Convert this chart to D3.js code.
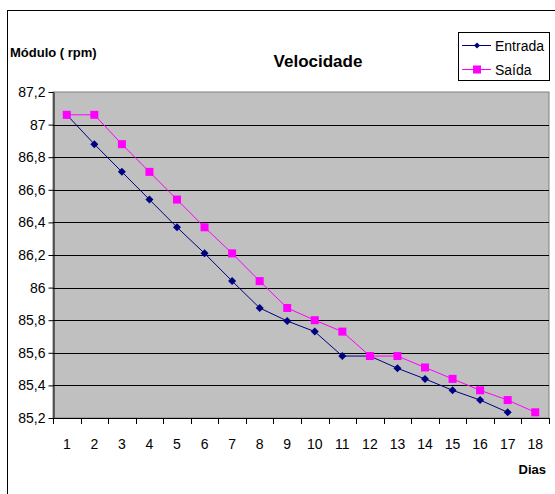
<!DOCTYPE html>
<html>
<head>
<meta charset="utf-8">
<script src="https://cdn.jsdelivr.net/npm/d3@7"></script>
<style>
  body { margin: 0; background: #fff; }
  svg { display: block; font-family: Arial, "Liberation Sans", sans-serif; }
</style>
</head>
<body>
<svg id="chart" width="555" height="494"></svg>
<script>
const days = [1, 2, 3, 4, 5, 6, 7, 8, 9, 10, 11, 12, 13, 14, 15, 16, 17, 18];
const entrada = [87.06, 86.88, 86.71, 86.54, 86.37, 86.21, 86.04, 85.875, 85.795, 85.73,
  85.58, 85.58, 85.505, 85.44, 85.37, 85.31, 85.235];
const saida = [87.06, 87.06, 86.88, 86.71, 86.54, 86.37, 86.21, 86.04, 85.875, 85.80,
  85.73, 85.58, 85.58, 85.51, 85.44, 85.37, 85.31, 85.235];
const yTicks = [85.2, 85.4, 85.6, 85.8, 86, 86.2, 86.4, 86.6, 86.8, 87, 87.2];

const svg = d3.select('#chart');
const plot = { left: 53, top: 92, right: 549, bottom: 418 };

// outer chart frame, cut off at right and bottom
svg.append('rect')
  .attr('x', 7.5).attr('y', 10.5)
  .attr('width', 560).attr('height', 500)
  .attr('fill', '#fff').attr('stroke', '#000');

const x = d3.scaleBand().domain(days).range([plot.left, plot.right]);
const y = d3.scaleLinear().domain([85.2, 87.2]).range([plot.bottom, plot.top]);

svg.append('rect')
  .attr('x', plot.left).attr('y', plot.top)
  .attr('width', plot.right - plot.left).attr('height', plot.bottom - plot.top)
  .attr('fill', '#c0c0c0').attr('stroke', '#808080');

// horizontal gridlines
svg.append('g')
  .selectAll('line')
  .data(yTicks.slice(1, -1))
  .join('line')
  .attr('x1', plot.left).attr('x2', plot.right)
  .attr('y1', d => Math.round(y(d)) + 0.5).attr('y2', d => Math.round(y(d)) + 0.5)
  .attr('stroke', '#000');

const fmt = d => d3.format('.1f')(d).replace('.0', '').replace('.', ',');

const yAxis = svg.append('g')
  .attr('transform', `translate(${plot.left + 0.5},0)`)
  .call(d3.axisLeft(y).tickValues(yTicks).tickFormat(fmt).tickSize(5).tickPadding(3).tickSizeOuter(0));
yAxis.selectAll('text').attr('font-size', 14).attr('fill', '#000').attr('font-family', 'Arial, "Liberation Sans", sans-serif');
yAxis.selectAll('line, path').attr('stroke', '#000');

// x axis: ticks on category boundaries
const bounds = days.map(d => x(d)).concat([plot.right]);
const xg = svg.append('g');
xg.append('line')
  .attr('x1', plot.left).attr('x2', plot.right)
  .attr('y1', plot.bottom + 0.5).attr('y2', plot.bottom + 0.5)
  .attr('stroke', '#000');
xg.selectAll('line.tick')
  .data(bounds)
  .join('line')
  .attr('class', 'tick')
  .attr('x1', d => Math.round(d) + 0.5).attr('x2', d => Math.round(d) + 0.5)
  .attr('y1', plot.bottom).attr('y2', plot.bottom + 6)
  .attr('stroke', '#000');
xg.selectAll('text')
  .data(days)
  .join('text')
  .attr('x', d => x(d) + x.bandwidth() / 2)
  .attr('y', 449)
  .attr('text-anchor', 'middle')
  .attr('font-size', 14)
  .text(d => d);

const line = d3.line()
  .x((d, i) => x(days[i]) + x.bandwidth() / 2)
  .y(d => y(d));

// Entrada first, Saída on top
svg.append('path')
  .datum(entrada)
  .attr('d', line)
  .attr('fill', 'none').attr('stroke', '#000080').attr('stroke-width', 1);

const diamond = 'M0,-4L4,0L0,4L-4,0Z';
svg.append('g')
  .selectAll('path')
  .data(entrada)
  .join('path')
  .attr('transform', (d, i) => `translate(${x(days[i]) + x.bandwidth() / 2},${y(d)})`)
  .attr('d', diamond)
  .attr('fill', '#000080');

svg.append('path')
  .datum(saida)
  .attr('d', line)
  .attr('fill', 'none').attr('stroke', '#ff00ff').attr('stroke-width', 1);

svg.append('g')
  .selectAll('rect')
  .data(saida)
  .join('rect')
  .attr('x', (d, i) => x(days[i]) + x.bandwidth() / 2 - 4)
  .attr('y', d => y(d) - 4)
  .attr('width', 8).attr('height', 8)
  .attr('fill', '#ff00ff');

// titles
svg.append('text')
  .attr('x', 318).attr('y', 67)
  .attr('text-anchor', 'middle')
  .attr('font-size', 17).attr('font-weight', 'bold')
  .text('Velocidade');
svg.append('text')
  .attr('x', 10).attr('y', 57)
  .attr('font-size', 13).attr('font-weight', 'bold')
  .text('Módulo ( rpm)');
svg.append('text')
  .attr('x', 546).attr('y', 474)
  .attr('text-anchor', 'end')
  .attr('font-size', 13).attr('font-weight', 'bold')
  .text('Dias');

// legend
const legend = svg.append('g');
legend.append('rect')
  .attr('x', 458.5).attr('y', 32.5)
  .attr('width', 91).attr('height', 48)
  .attr('fill', '#fff').attr('stroke', '#000');
const legendItems = [
  { name: 'Entrada', color: '#000080', marker: 'diamond', cy: 45 },
  { name: 'Saída', color: '#ff00ff', marker: 'square', cy: 69 }
];
legendItems.forEach(item => {
  legend.append('line')
    .attr('x1', 462).attr('x2', 491)
    .attr('y1', item.cy + 0.5).attr('y2', item.cy + 0.5)
    .attr('stroke', item.color);
  if (item.marker === 'square') {
    legend.append('rect')
      .attr('x', 473).attr('y', item.cy - 3.5)
      .attr('width', 8).attr('height', 8)
      .attr('fill', item.color);
  } else {
    legend.append('path')
      .attr('transform', `translate(477,${item.cy + 0.5})`)
      .attr('d', 'M0,-3L3,0L0,3L-3,0Z')
      .attr('fill', item.color);
  }
  legend.append('text')
    .attr('x', 495).attr('y', item.cy + 5.5)
    .attr('font-size', 14)
    .text(item.name);
});
</script>
</body>
</html>
